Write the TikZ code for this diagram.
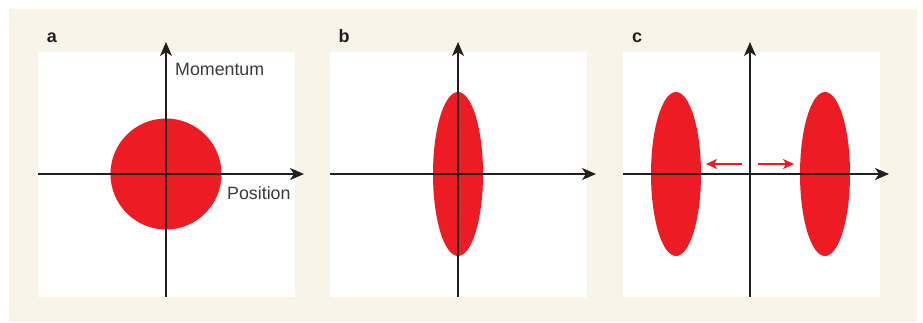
\documentclass[tikz,border=0pt]{standalone}
\usepackage{fontspec}
\setmainfont{Liberation Sans}
\usetikzlibrary{arrows.meta, positioning}
\definecolor{paneltan}{HTML}{F8F5E8}
\definecolor{blobred}{HTML}{ED1C24}
\definecolor{axisgray}{HTML}{231F20}
\definecolor{textgray}{HTML}{3A3A3A}

\begin{document}
\begin{tikzpicture}[
    x=1pt, y=-1pt,
    axis/.style={-{Stealth[length=14pt, width=12pt, inset=4pt]}, line width=1.4pt, axisgray},
    push/.style={-{Stealth[length=11pt, width=10pt, inset=3pt]}, line width=1.8pt, blobred},
    blob/.style={fill=blobred, draw=none},
    tag/.style={font=\fontsize{18}{18}\selectfont\bfseries, text=axisgray, anchor=base, inner sep=0pt},
    axlabel/.style={font=\fontsize{17.8}{20}\selectfont, text=textgray, anchor=west, inner sep=0pt}
]
\useasboundingbox (0,0) rectangle (923,322);

% Background
\fill[paneltan] (9,9) rectangle (917,322);

% White panels and letters
\foreach \name/\ox in {a/38, b/330, c/623} {
    \fill[white] (\ox,52) rectangle ++(257,245);
    \node[tag] (tag\name) at (\ox+14,42) {\name};
}

% Phase-space blobs
\fill[blob] (166,174) circle (55.5pt);
\fill[blob] (458,174) ellipse [x radius=25pt, y radius=82pt];
\fill[blob] (676,174) ellipse [x radius=25pt, y radius=82pt];
\fill[blob] (825,174) ellipse [x radius=25pt, y radius=82pt];

% Axes
\foreach \name/\ox/\cx in {a/38/166, b/330/458, c/623/750} {
    \coordinate (left\name) at (\ox,174);
    \coordinate (right\name) at (\ox+266,174);
    \coordinate (bottom\name) at (\cx,297);
    \coordinate (top\name) at (\cx,42);
    \draw[axis] (left\name) -- (right\name);
    \draw[axis] (bottom\name) -- (top\name);
}

% Axis labels
\node[axlabel] (momentum) at (175,69) {Momentum};
\node[axlabel] (position) at (227,193) {Position};

% Splitting arrows
\coordinate (splitL) at (742,164);
\coordinate (splitLtip) at (706,164);
\coordinate (splitR) at (758,164);
\coordinate (splitRtip) at (794,164);
\draw[push] (splitL) -- (splitLtip);
\draw[push] (splitR) -- (splitRtip);

\end{tikzpicture}
\end{document}
